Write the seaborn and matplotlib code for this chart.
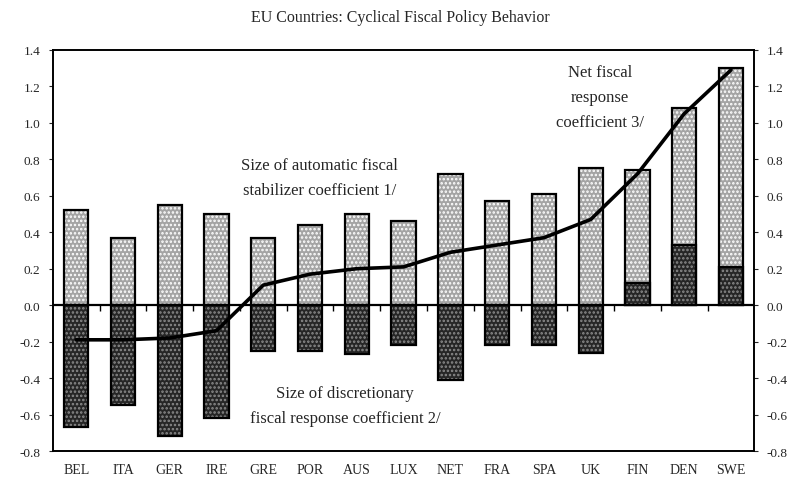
import numpy as np
import pandas as pd
import matplotlib
matplotlib.use("Agg")
import matplotlib.pyplot as plt
import seaborn as sns
from matplotlib.patches import Rectangle
from matplotlib.ticker import FormatStrFormatter, MultipleLocator

# data
countries = ['BEL', 'ITA', 'GER', 'IRE', 'GRE', 'POR', 'AUS', 'LUX',
             'NET', 'FRA', 'SPA', 'UK', 'FIN', 'DEN', 'SWE']
automatic = [0.52, 0.37, 0.55, 0.50, 0.37, 0.44, 0.50, 0.46,
             0.72, 0.57, 0.61, 0.75, 0.74, 1.08, 1.30]
discretionary = [-0.67, -0.55, -0.72, -0.62, -0.25, -0.25, -0.27, -0.22,
                 -0.41, -0.22, -0.22, -0.26, 0.12, 0.33, 0.21]
net_response = [-0.19, -0.19, -0.18, -0.14, 0.11, 0.17, 0.20, 0.21,
                0.29, 0.33, 0.37, 0.47, 0.72, 1.05, 1.29]

df = pd.DataFrame({'country': countries, 'auto': automatic,
                   'disc': discretionary, 'net': net_response})

sns.set_style('white')
plt.rcParams['font.family'] = ['Liberation Serif', 'DejaVu Serif']
plt.rcParams['axes.unicode_minus'] = False
plt.rcParams['hatch.linewidth'] = 1.2

fig = plt.figure(figsize=(8, 4.85), dpi=100)
ax = fig.add_axes([0.066, 0.068, 0.877, 0.827])

# light stippled bars (automatic stabilizer)
sns.barplot(data=df, x='country', y='auto', color='#a4a4a4', width=0.52,
            hatch='....', edgecolor='white', linewidth=0, saturation=1, ax=ax)
# dark stippled bars (discretionary)
sns.barplot(data=df, x='country', y='disc', color='#262626', width=0.52,
            hatch='....', edgecolor='#8c8c8c', linewidth=0, saturation=1, ax=ax)

# black outlines on top of the hatched bars
for p in list(ax.patches):
    ax.add_patch(Rectangle(p.get_xy(), p.get_width(), p.get_height(),
                           fill=False, edgecolor='black', linewidth=1.6, zorder=3))

# net fiscal response line
sns.lineplot(x=np.arange(len(countries)), y=df['net'], color='black',
             linewidth=2.6, ax=ax, zorder=4)

ax.axhline(0, color='black', linewidth=1.6, zorder=5)
ax.plot(np.arange(len(countries) - 1) + 0.5, np.zeros(len(countries) - 1),
        linestyle='none', marker=3, markersize=4, color='black', zorder=5)

ax.set_xlim(-0.5, len(countries) - 0.5)
ax.set_ylim(-0.8, 1.4)
ax.yaxis.set_major_locator(MultipleLocator(0.2))
ax.yaxis.set_major_formatter(FormatStrFormatter('%.1f'))
ax.tick_params(axis='y', left=True, right=True, labelright=True,
               direction='out', length=3, labelsize=9.5, pad=6)
ax.tick_params(axis='x', bottom=False, labelsize=10, pad=5)
ax.set_xlabel('')
ax.set_ylabel('')

for s in ax.spines.values():
    s.set_color('black')
    s.set_linewidth(1.4)

ax.text(5.2, 0.70, 'Size of automatic fiscal\nstabilizer coefficient 1/',
        ha='center', va='center', fontsize=12, linespacing=1.8)
ax.text(11.2, 1.14, 'Net fiscal\nresponse\ncoefficient 3/',
        ha='center', va='center', fontsize=12, linespacing=1.75)
ax.text(5.75, -0.55, 'Size of discretionary\nfiscal response coefficient 2/',
        ha='center', va='center', fontsize=12, linespacing=1.75)

fig.text(0.5, 0.963, 'EU Countries: Cyclical Fiscal Policy Behavior',
         ha='center', va='center', fontsize=11.5)

fig.savefig('out.png', dpi=100)
